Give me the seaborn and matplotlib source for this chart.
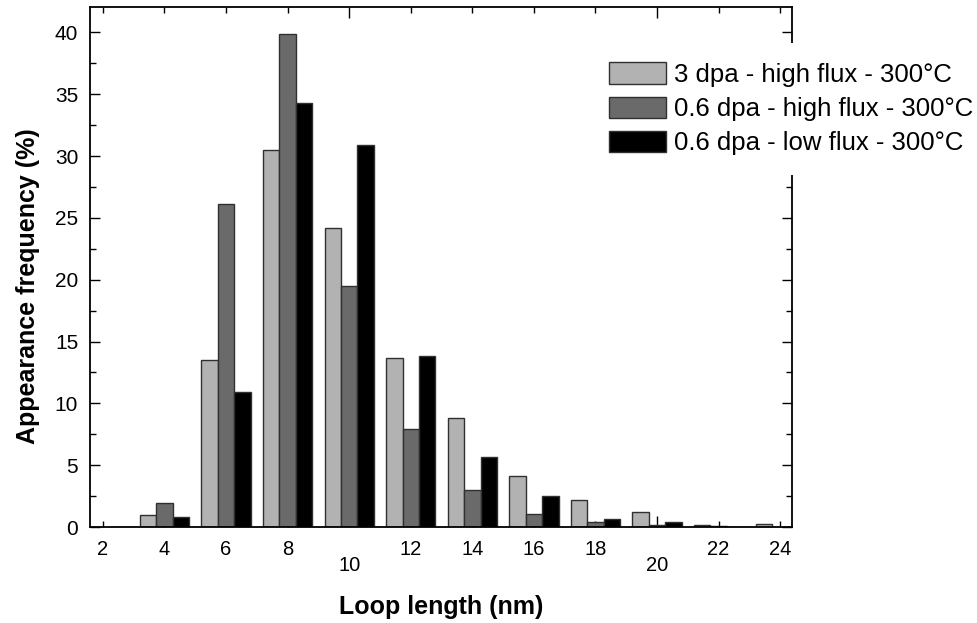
import numpy as np
import pandas as pd
import matplotlib
matplotlib.use("Agg")
import matplotlib.pyplot as plt
import seaborn as sns

# valores
longitudes = [4, 6, 8, 10, 12, 14, 16, 18, 20, 22, 24]
frec_3dpa_high = [0.95, 13.5, 30.5, 24.2, 13.7, 8.85, 4.1, 2.2, 1.2, 0.2, 0.22]
frec_06dpa_high = [1.95, 26.1, 39.9, 19.5, 7.9, 3.0, 1.07, 0.4, 0.15, 0.05, 0.0]
frec_06dpa_low = [0.85, 10.9, 34.3, 30.9, 13.85, 5.65, 2.55, 0.65, 0.43, 0.0, 0.0]

series = ["3 dpa - high flux - 300°C", "0.6 dpa - high flux - 300°C", "0.6 dpa - low flux - 300°C"]
colores = ["#b2b2b2", "#6a6a6a", "#000000"]

df = pd.DataFrame({
    "longitud": longitudes * 3,
    "frecuencia": frec_3dpa_high + frec_06dpa_high + frec_06dpa_low,
    "serie": [series[0]] * len(longitudes) + [series[1]] * len(longitudes) + [series[2]] * len(longitudes),
})

sns.set_style("ticks")
plt.rcParams["font.family"] = ["Liberation Sans", "DejaVu Sans"]
plt.rcParams["text.color"] = "black"
plt.rcParams["axes.labelcolor"] = "black"
plt.rcParams["xtick.color"] = "black"
plt.rcParams["ytick.color"] = "black"

fig = plt.figure(figsize=(9.78, 6.23), dpi=100)
ax = fig.add_axes([0.092, 0.154, 0.718, 0.835])

sns.barplot(data=df, x="longitud", y="frecuencia", hue="serie", hue_order=series,
            palette=colores, native_scale=True, width=0.8, edgecolor="#303030",
            linewidth=1.0, saturation=1, ax=ax)

ax.set_xlim(1.58, 24.39)
ax.set_ylim(0, 42.07)

# ticks: 10 y 20 largos con etiqueta mas abajo, el resto normales
ax.set_xticks([10, 20], labels=["10", "20"])
menores = [2, 4, 6, 8, 12, 14, 16, 18, 22, 24]
ax.set_xticks(menores, labels=[str(v) for v in menores], minor=True)
ax.tick_params(axis="x", which="major", direction="in", length=8, width=1, pad=21,
               top=True, labelsize=14.5)
ax.tick_params(axis="x", which="minor", direction="in", length=4.5, width=1, pad=9.5,
               top=True, labelsize=14.5)

ax.set_yticks(np.arange(0, 41, 5))
ax.set_yticks(np.arange(2.5, 41, 5), minor=True)
ax.tick_params(axis="y", which="major", direction="in", length=7, width=1, pad=8.5,
               right=True, labelsize=15)
ax.tick_params(axis="y", which="minor", direction="in", length=4, width=1, right=True)

for s in ax.spines.values():
    s.set_visible(True)
    s.set_linewidth(1.3)
    s.set_color("black")

ax.set_xlabel("Loop length (nm)", fontsize=18, fontweight="bold", labelpad=14)
ax.set_ylabel("Appearance frequency (%)", fontsize=18, fontweight="bold")
ax.yaxis.set_label_coords(-0.071, 0.464)

ley = ax.legend(loc="upper left", bbox_to_anchor=(590 / 978, 1 - 43 / 623),
                bbox_transform=fig.transFigure, fontsize=18.5, frameon=True,
                fancybox=False, framealpha=1, facecolor="white", edgecolor="none",
                handlelength=2.2, handleheight=0.9, handletextpad=0.3,
                labelspacing=0.38, borderpad=0.75, borderaxespad=0)
ley.set_zorder(10)

plt.savefig("out.png", dpi=100)
plt.close()
